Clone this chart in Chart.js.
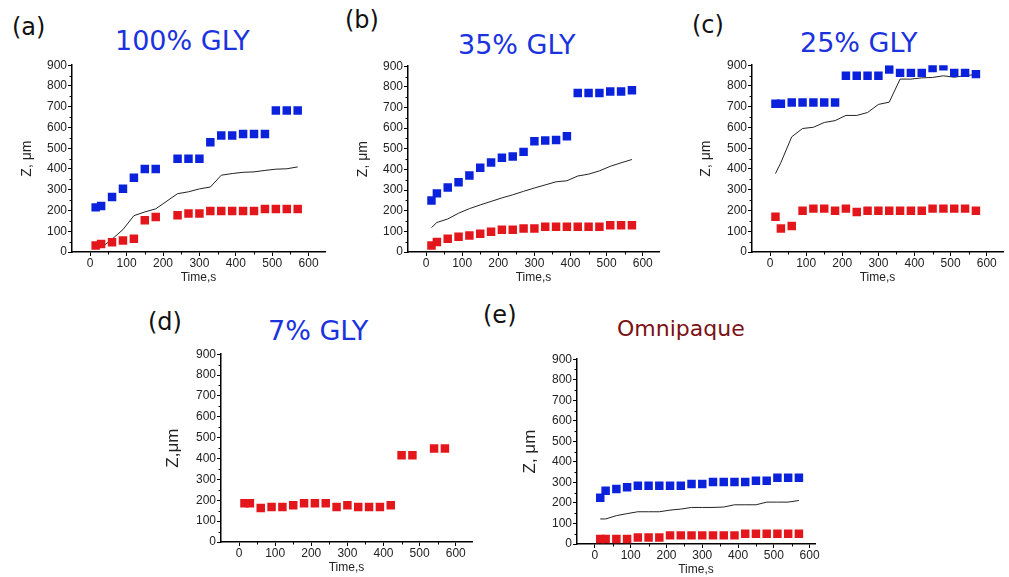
<!DOCTYPE html>
<html>
<head>
<meta charset="utf-8">
<script src="https://cdn.jsdelivr.net/npm/chart.js@4"></script>
<style>
  body { margin: 0; width: 1009px; height: 577px; overflow: hidden; background: #fff; position: relative; font-family: "DejaVu Sans", sans-serif; }
  canvas { position: absolute; }
  .lab { position: absolute; font-size: 24px; line-height: 28px; color: #111; }
  .ttl { position: absolute; font-size: 27px; line-height: 30px; color: #1a32e0; white-space: nowrap; }
</style>
</head>
<body>
<div class="lab" style="left:12px;top:13px">(a)</div>
<div class="lab" style="left:345px;top:6px">(b)</div>
<div class="lab" style="left:692px;top:11px">(c)</div>
<div class="lab" style="left:148px;top:308px">(d)</div>
<div class="lab" style="left:483px;top:301px">(e)</div>

<div class="ttl" style="left:115px;top:26px">100% GLY</div>
<div class="ttl" style="left:458px;top:30px">35% GLY</div>
<div class="ttl" style="left:800px;top:28px">25% GLY</div>
<div class="ttl" style="left:268px;top:316px">7% GLY</div>
<div class="ttl" style="left:617px;top:314px;color:#7b1113;font-size:22px">Omnipaque</div>

<canvas id="pa"></canvas>
<canvas id="pb"></canvas>
<canvas id="pc"></canvas>
<canvas id="pd"></canvas>
<canvas id="pe"></canvas>

<script>
// time points, s
const times = [15, 30, 60, 90, 120, 150, 180, 210, 240, 270, 300, 330, 360, 390, 420, 450, 480, 510, 540, 570];
const timesA = [15, 30, 60, 90, 120, 150, 180, 240, 270, 300, 330, 360, 390, 420, 450, 480, 510, 540, 570];
const timesALine = [30, 60, 90, 120, 150, 180, 240, 270, 300, 330, 360, 390, 420, 450, 480, 510, 540, 570];
const timesD = [15, 30, 60, 90, 120, 150, 180, 210, 240, 270, 300, 330, 360, 390, 420, 450, 480, 540, 570];

// (a) 100% GLY
const aBlue = [215, 222, 265, 305, 358, 400, 400, 449, 449, 449, 529, 561, 561, 568, 568, 568, 682, 682, 682];
const aRed = [31, 39, 47, 55, 64, 153, 169, 177, 185, 185, 198, 198, 198, 198, 198, 207, 207, 207, 207];
const aLine = [20, 62, 108, 175, 193, 208, 281, 290, 304, 313, 370, 378, 384, 386, 393, 399, 401, 410];

// (b) 35% GLY
const bBlue = [249, 284, 312, 338, 370, 408, 434, 456, 463, 485, 537, 540, 543, 561, 770, 770, 770, 777, 777, 784];
const bRed = [32, 48, 64, 74, 80, 88, 98, 108, 108, 114, 114, 122, 122, 122, 122, 122, 122, 130, 130, 130];
const bLine = [118, 143, 160, 188, 210, 228, 245, 262, 277, 294, 310, 325, 340, 345, 368, 377, 393, 415, 432, 448];

// (c) 25% GLY
const cBlue = [714, 714, 720, 720, 720, 720, 720, 849, 849, 849, 849, 879, 863, 863, 863, 887, 895, 863, 863, 857];
const cRed = [170, 113, 125, 199, 209, 209, 199, 209, 193, 199, 199, 199, 199, 199, 199, 209, 209, 209, 209, 199];
const cLine = [378, 431, 555, 595, 601, 624, 633, 658, 658, 672, 711, 722, 833, 833, 839, 841, 849, 842, 850, 855];

// (d) 7% GLY
const dRed = [186, 186, 163, 168, 168, 176, 186, 186, 186, 168, 176, 168, 168, 168, 176, 416, 416, 448, 448];

// (e) Omnipaque
const eBlue = [225, 259, 268, 276, 284, 284, 284, 284, 284, 292, 292, 302, 302, 302, 302, 308, 308, 323, 323, 323];
const eRed = [24, 24, 24, 24, 32, 32, 32, 42, 42, 42, 42, 42, 42, 42, 50, 50, 50, 50, 50, 50];
const eLine = [122, 122, 138, 148, 157, 157, 157, 165, 170, 178, 178, 178, 180, 191, 191, 191, 204, 204, 204, 212];

const xTicks = [0, 100, 200, 300, 400, 500, 600];
const yTicks = [0, 100, 200, 300, 400, 500, 600, 700, 800, 900];
const xMinor = [50, 150, 250, 350, 450, 550];
const yMinor = [50, 150, 250, 350, 450, 550, 650, 750, 850];

const BLUE = '#0b22dc';
const RED = '#e3161b';

function pts(xs, ys) {
  return xs.map((x, i) => ({ x: x, y: ys[i] }));
}

function squares(data, color) {
  return { data: data, showLine: false, pointStyle: 'rect', pointRadius: 6,
    backgroundColor: color, borderColor: color, borderWidth: 0 };
}

function line(data) {
  return { data: data, showLine: true, pointRadius: 0, borderColor: '#222', borderWidth: 1 };
}

// small origin-style minor ticks
const minorTicks = {
  id: 'minorTicks',
  afterDraw(chart) {
    const ctx = chart.ctx, xs = chart.scales.x, ys = chart.scales.y, a = chart.chartArea;
    ctx.save();
    ctx.strokeStyle = '#000';
    ctx.lineWidth = 1;
    ctx.beginPath();
    xMinor.forEach(v => {
      const px = Math.round(xs.getPixelForValue(v)) + 0.5;
      ctx.moveTo(px, a.bottom);
      ctx.lineTo(px, a.bottom + 2.5);
    });
    yMinor.forEach(v => {
      const py = Math.round(ys.getPixelForValue(v)) + 0.5;
      ctx.moveTo(a.left, py);
      ctx.lineTo(a.left - 2.5, py);
    });
    ctx.stroke();
    ctx.restore();
  }
};

const tickFont = { family: 'Liberation Sans', size: 12 };

function makePanel(id, box, datasets) {
  const cv = document.getElementById(id);
  const left = box.L - box.yw, top = box.T - 8;
  cv.width = box.R + 6 - left;
  cv.height = box.B + box.xh - top;
  cv.style.left = left + 'px';
  cv.style.top = top + 'px';

  new Chart(cv, {
    type: 'scatter',
    data: { datasets: datasets },
    plugins: [minorTicks],
    options: {
      responsive: false,
      animation: false,
      devicePixelRatio: 1,
      layout: { padding: { top: 8, right: 6, left: 0, bottom: 0 } },
      plugins: { legend: { display: false }, tooltip: { enabled: false } },
      scales: {
        x: {
          type: 'linear', min: -50, max: box.xMax,
          afterBuildTicks: s => { s.ticks = xTicks.map(v => ({ value: v })); },
          afterFit: s => { s.height = box.xh; },
          grid: { drawOnChartArea: false, tickLength: 4, tickColor: '#000' },
          border: { color: '#000', width: 1.5 },
          ticks: { font: tickFont, color: '#222', padding: 0, maxRotation: 0, autoSkip: false },
          title: { display: true, text: 'Time,s', font: { family: 'Liberation Sans', size: 12 }, color: '#222',
            padding: { top: 0, bottom: box.tpad } }
        },
        y: {
          type: 'linear', min: 0, max: 900,
          afterBuildTicks: s => { s.ticks = yTicks.map(v => ({ value: v })); },
          afterFit: s => { s.width = box.yw; },
          grid: { drawOnChartArea: false, tickLength: 4, tickColor: '#000' },
          border: { color: '#000', width: 1.5 },
          ticks: { font: tickFont, color: '#222', padding: 1, autoSkip: false },
          title: { display: true, text: box.yTitle, font: { family: 'Liberation Sans', size: box.ySize }, color: '#222',
            padding: { top: 2, bottom: 0 } }
        }
      }
    }
  });
}

makePanel('pa', { L: 72, T: 65, R: 325, B: 252, yw: 55, xh: 35, tpad: 2, xMax: 645, yTitle: 'Z, μm', ySize: 14 }, [
  squares(pts(timesA, aBlue), BLUE),
  squares(pts(timesA, aRed), RED),
  line(pts(timesALine, aLine))
]);

makePanel('pb', { L: 408, T: 66, R: 659, B: 252, yw: 55, xh: 35, tpad: 2, xMax: 645, yTitle: 'Z, μm', ySize: 14 }, [
  squares(pts(times, bBlue), BLUE),
  squares(pts(times, bRed), RED),
  line(pts(times, bLine))
]);

makePanel('pc', { L: 752, T: 65, R: 1003, B: 252, yw: 56, xh: 35, tpad: 2, xMax: 645, yTitle: 'Z, μm', ySize: 14 }, [
  squares(pts(times, cBlue), BLUE),
  squares(pts(times, cRed), RED),
  line(pts(times, cLine))
]);

makePanel('pd', { L: 221, T: 354, R: 472, B: 542, yw: 60, xh: 35, tpad: 2, xMax: 645, yTitle: 'Z,μm', ySize: 17 }, [
  squares(pts(timesD, dRed), RED)
]);

makePanel('pe', { L: 577, T: 359, R: 815, B: 544, yw: 59, xh: 33, tpad: 0, xMax: 615, yTitle: 'Z, μm', ySize: 17 }, [
  squares(pts(times, eBlue), BLUE),
  squares(pts(times, eRed), RED),
  line(pts(times, eLine))
]);
</script>
</body>
</html>
